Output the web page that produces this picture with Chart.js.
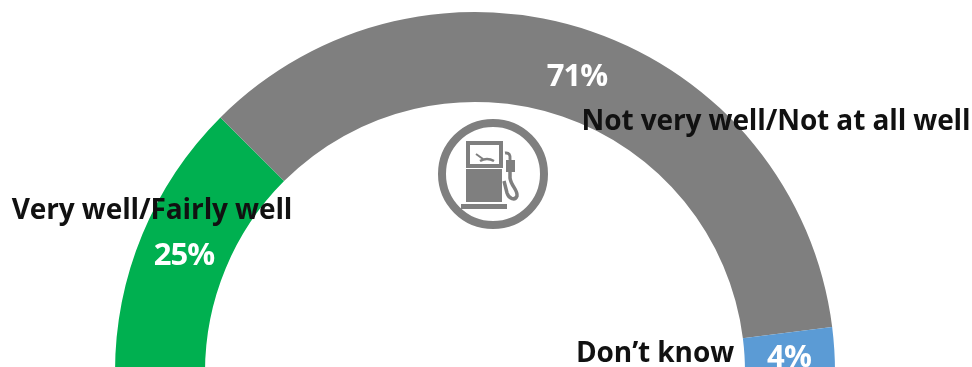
<!DOCTYPE html>
<html>
<head>
<meta charset="utf-8">
<style>
html,body{margin:0;padding:0;background:#fff;overflow:hidden;width:972px;height:367px}
#wrap{position:absolute;left:0;top:0;width:972px;height:372px}
#c{filter:blur(0.5px)}
</style>
<script src="https://cdn.jsdelivr.net/npm/chart.js@4"></script>
</head>
<body>
<div id="wrap"><canvas id="c" width="972" height="372"></canvas></div>
<script>
const categories = ["Very well/Fairly well", "Not very well/Not at all well", "Don\u2019t know"];
const values = [25, 71, 4];
const valueLabels = ["25%", "71%", "4%"];
const colors = ["#00B050", "#7F7F7F", "#5B9BD5"];

const labelPlacement = [
  {name:[152,211], value:[184,256]},
  {name:[776,122], value:[577,77]},
  {name:[655,354], value:[789,358]}
];

const FONT = '"Open Sans","Noto Sans",sans-serif';

const overlay = {
  id:'overlay',
  afterDraw(chart){
    const ctx = chart.ctx;
    ctx.save();
    ctx.textAlign='center'; ctx.textBaseline='middle';
    categories.forEach((t,i)=>{
      const p = labelPlacement[i];
      ctx.font = '700 28px '+FONT;
      ctx.letterSpacing = '-0.1px';
      ctx.fillStyle = '#111';
      ctx.fillText(t,p.name[0],p.name[1]);
      ctx.font = '700 31px '+FONT;
      ctx.letterSpacing = '-0.9px';
      ctx.fillStyle = '#fff';
      ctx.fillText(valueLabels[i],p.value[0],p.value[1]);
    });
    ctx.letterSpacing='0px';
    // pump icon
    const g='#7F7F7F';
    ctx.strokeStyle=g; ctx.fillStyle=g;
    ctx.lineWidth=8;
    ctx.beginPath(); ctx.arc(493,174,51,0,Math.PI*2); ctx.stroke();
    ctx.lineWidth=4;
    ctx.strokeRect(468,143,33,23);
    ctx.fillRect(466,169,36,33);
    ctx.fillRect(461,204,46,5);
    ctx.lineWidth=2;
    ctx.beginPath(); ctx.moveTo(476,154); ctx.lineTo(483,159); ctx.stroke();
    ctx.lineWidth=2.5;
    ctx.beginPath(); ctx.moveTo(480,161); ctx.quadraticCurveTo(487,157,494,161); ctx.stroke();
    ctx.fillRect(506,160,9,12);
    ctx.lineWidth=3;
    ctx.beginPath(); ctx.moveTo(505,153); ctx.quadraticCurveTo(511,152,510,160); ctx.stroke();
    ctx.lineWidth=3.5;
    ctx.beginPath();
    ctx.moveTo(510,172); ctx.lineTo(510,178);
    ctx.bezierCurveTo(511,186,518,190,517,196);
    ctx.bezierCurveTo(515,201,509,199,507,193);
    ctx.lineTo(504,181);
    ctx.stroke();
    ctx.restore();
  }
};

new Chart(document.getElementById('c'),{
  type:'doughnut',
  data:{labels:categories,datasets:[{data:values,backgroundColor:colors,borderWidth:0}]},
  options:{
    responsive:false,animation:false,
    rotation:-90,circumference:180,cutout:'75%',
    layout:{padding:{left:115,right:137,top:12,bottom:0}},
    plugins:{legend:{display:false},tooltip:{enabled:false}}
  },
  plugins:[overlay]
});
</script>
</body>
</html>
